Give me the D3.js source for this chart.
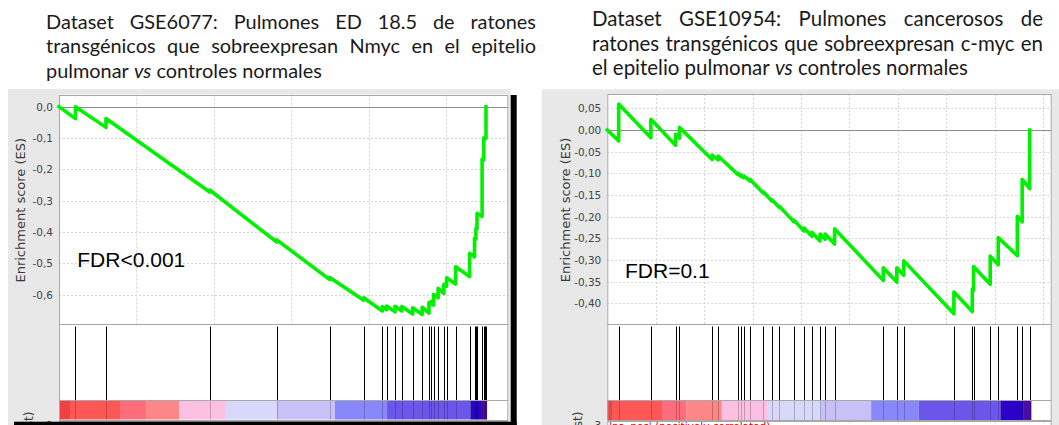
<!DOCTYPE html>
<html><head><meta charset="utf-8">
<script src="https://cdn.jsdelivr.net/npm/d3@7"></script>
<style>body{margin:0;background:#fff}svg{display:block}</style>
</head><body><svg id="c" width="1059" height="425"></svg>
<script>
// ---------------- DATA ----------------
const leftTitle = ["Dataset GSE6077: Pulmones ED 18.5 de ratones",
                   "transgénicos que sobreexpresan Nmyc en el epitelio",
                   "pulmonar |vs| controles normales"];
const rightTitle = ["Dataset GSE10954: Pulmones cancerosos de",
                    "ratones transgénicos que sobreexpresan c-myc en",
                    "el epitelio pulmonar |vs| controles normales"];
const yAxisTitle = "Enrichment score (ES)";
const metricTitle = "Ranked list metric (tTest)";

const leftTicks = [0, -0.1, -0.2, -0.3, -0.4, -0.5, -0.6];
const leftTickLabels = ["0,0", "-0,1", "-0,2", "-0,3", "-0,4", "-0,5", "-0,6"];
const rightTicks = [0.05, 0, -0.05, -0.10, -0.15, -0.20, -0.25, -0.30, -0.35, -0.40];
const rightTickLabels = ["0,05", "0,00", "-0,05", "-0,10", "-0,15", "-0,20", "-0,25", "-0,30", "-0,35", "-0,40"];

const leftFdr = "FDR<0.001";
const rightFdr = "FDR=0.1";

// gene-set hits (rank in ordered list) and ES just before / after each hit
const leftHits = [1060, 3030, 9720, 14050, 17470, 19660, 20860, 21140, 21680, 22120, 22820, 23430, 23870, 24020, 24170, 24460, 24830, 25010, 25590, 26490, 26810, 26900, 26970, 27300, 27410, 27490, 27550];
const leftEsBefore = [-0.038, -0.066, -0.272, -0.432, -0.552, -0.618, -0.652, -0.648, -0.655, -0.652, -0.662, -0.663, -0.659, -0.630, -0.633, -0.610, -0.596, -0.573, -0.566, -0.542, -0.479, -0.423, -0.390, -0.350, -0.170, -0.101, -0.100];
const leftEsAfter  = [ 0.000, -0.038, -0.266, -0.425, -0.545, -0.610, -0.638, -0.636, -0.637, -0.638, -0.642, -0.640, -0.625, -0.622, -0.599, -0.580, -0.567, -0.546, -0.511, -0.468, -0.420, -0.388, -0.340, -0.167, -0.099, -0.098, 0.000];

const rightHits = [470, 1800, 2820, 2980, 4330, 4580, 5400, 5540, 5640, 5900, 6450, 6800, 7110, 7710, 8130, 8450, 8790, 9000, 9390, 11400, 11960, 12250, 14320, 15080, 15130, 15820, 16150, 16940, 17140, 17450];
const rightEsBefore = [-0.025, -0.018, -0.035, -0.019, -0.068, -0.069, -0.103, -0.108, -0.110, -0.118, -0.146, -0.164, -0.179, -0.212, -0.233, -0.245, -0.256, -0.252, -0.263, -0.347, -0.351, -0.335, -0.424, -0.419, -0.370, -0.356, -0.311, -0.290, -0.212, -0.135];
const rightEsAfter  = [ 0.060,  0.025, -0.010,  0.006, -0.058, -0.060, -0.100, -0.104, -0.106, -0.114, -0.143, -0.161, -0.176, -0.208, -0.226, -0.236, -0.240, -0.240, -0.228, -0.318, -0.318, -0.302, -0.374, -0.367, -0.315, -0.291, -0.248, -0.199, -0.114, 0.000];

// colour bar of the ranked list (segment start ranks, colours, end rank)
const leftBarStarts = [0, 710, 3990, 5620, 7760, 10770, 14050, 17800, 21190, 26570, 27290];
const leftBarEnd = 27620;
const rightBarStarts = [0, 230, 2260, 3260, 4730, 6630, 8800, 10900, 12860, 16240, 17210];
const rightBarEnd = 17520;
const barColors = ["#ee4242", "#ff5656", "#ff6c7b", "#ff8686", "#fdbfe2", "#d8d8fb", "#c7c1f8", "#8888fb", "#6b56eb", "#2a02c8", "#4c0ca6"];

const leftXMax = 28990, leftGridStep = 5000;
const rightXMax = 18360, rightGridStep = 2000;

// ---------------- DRAW ----------------
const svg = d3.select("#c");
const TITLE_FONT = "Lato, 'Open Sans', sans-serif";

function measure(text, size, italic) {
  const t = svg.append("text").attr("font-family", TITLE_FONT).attr("font-size", size)
    .attr("font-style", italic ? "italic" : "normal").text(text);
  const w = t.node().getComputedTextLength(); t.remove(); return w;
}
function parseWords(line) {
  const parts = line.split("|");
  const words = [];
  parts.forEach((p, i) => p.split(" ").filter(s => s.length).forEach(w => words.push({w, it: i % 2 === 1})));
  return words;
}
function drawTitle(lines, x0, x1, y0, lh, lastW) {
  const last = parseWords(lines[lines.length - 1]);
  const space20 = measure("a a", 20) - measure("aa", 20);
  let w20 = last.reduce((s, d) => s + measure(d.w, 20, d.it), 0) + space20 * (last.length - 1);
  const size = 20 * lastW / w20;
  const sp = space20 * size / 20;
  const g = svg.append("g").attr("font-family", TITLE_FONT).attr("font-size", size).attr("fill", "#1a1a1a");
  lines.forEach((line, li) => {
    const words = parseWords(line);
    const ws = words.map(d => measure(d.w, size, d.it));
    const tot = d3.sum(ws);
    const justify = li < lines.length - 1;
    const gap = justify ? (x1 - x0 - tot) / (words.length - 1) : sp;
    let x = x0;
    words.forEach((d, i) => {
      g.append("text").attr("x", x).attr("y", y0 + li * lh)
        .attr("font-style", d.it ? "italic" : "normal").text(d.w);
      x += ws[i] + gap;
    });
  });
}

function esPoints(hits, before, after) {
  const pts = [{r: 0, v: 0}];
  hits.forEach((h, i) => { pts.push({r: h, v: before[i]}); pts.push({r: h, v: after[i]}); });
  return pts;
}

function drawPanel(p) {
  const g = svg.append("g");
  g.append("rect").attr("x", p.gx0).attr("y", p.gy0).attr("width", p.gx1 - p.gx0)
    .attr("height", 425 - p.gy0).attr("fill", "#e8e8e8");
  const x = d3.scaleLinear().domain([0, p.xMax]).range([p.px0, p.px1]);
  const y = d3.scaleLinear().domain(p.yDomain).range([p.esBot, p.esTop]);

  g.append("rect").attr("x", p.px0).attr("y", p.esTop).attr("width", p.px1 - p.px0)
    .attr("height", 430 - p.esTop).attr("fill", "#fff");

  // grid
  const grid = g.append("g").attr("stroke", "#d4d4d4").attr("stroke-dasharray", "2,2").attr("stroke-width", 1);
  p.ticks.forEach(t => {
    const yy = Math.round(y(t)) + 0.5;
    grid.append("line").attr("x1", p.px0).attr("x2", p.px1).attr("y1", yy).attr("y2", yy);
  });
  d3.range(p.gridStep, p.xMax, p.gridStep).forEach(r => {
    const xx = Math.round(x(r)) + 0.5;
    grid.append("line").attr("x1", xx).attr("x2", xx).attr("y1", p.esTop).attr("y2", p.esBot);
    grid.append("line").attr("x1", xx).attr("x2", xx).attr("y1", p.barBot + 1).attr("y2", 425);
  });
  const y0 = Math.round(y(0)) + 0.5;
  g.append("line").attr("x1", p.px0).attr("x2", p.px1).attr("y1", y0).attr("y2", y0)
    .attr("stroke", "#8c8c8c").attr("stroke-width", 1);

  const ax = d3.axisLeft(y).tickValues(p.ticks).tickFormat((d, i) => p.tickLabels[i]).tickSize(0).tickPadding(6);
  const axg = g.append("g").attr("transform", `translate(${p.px0},0)`).call(ax);
  axg.select(".domain").remove();
  axg.selectAll("text").attr("font-family", "'DejaVu Sans', sans-serif").attr("font-size", 10.5).attr("fill", "#444");

  g.append("text").attr("transform", `translate(${p.labelX},${(p.esTop + p.esBot) / 2 + 1}) rotate(-90)`)
    .attr("text-anchor", "middle").attr("dominant-baseline", "central")
    .attr("font-family", "'DejaVu Sans', sans-serif").attr("font-size", 13).attr("fill", "#3a3a3a").text(yAxisTitle);

  const bar = p.barStarts.map((s, i) => ({s, e: i < p.barStarts.length - 1 ? p.barStarts[i + 1] : p.barEnd, c: barColors[i]}));
  g.selectAll(null).data(bar).enter().append("rect")
    .attr("x", d => x(d.s)).attr("width", d => x(d.e) - x(d.s))
    .attr("y", p.hitBot).attr("height", p.barBot - p.hitBot).attr("fill", d => d.c);

  g.selectAll(null).data(p.hits).enter().append("line")
    .attr("x1", d => Math.round(x(d)) + 0.5).attr("x2", d => Math.round(x(d)) + 0.5)
    .attr("y1", p.esBot + 2.5).attr("y2", p.hitBot).attr("stroke", "#000").attr("stroke-width", 1);
  g.selectAll(null).data(p.hits).enter().append("line")
    .attr("x1", d => Math.round(x(d)) + 0.5).attr("x2", d => Math.round(x(d)) + 0.5)
    .attr("y1", p.hitBot).attr("y2", p.barBot).attr("stroke", "rgba(0,0,0,0.22)").attr("stroke-width", 1);

  const fr = g.append("g").attr("fill", "none").attr("stroke", "#a8a8a8").attr("stroke-width", 1);
  [[p.esTop, p.esBot], [p.esBot, p.hitBot], [p.hitBot, p.barBot], [p.barBot + 1, 440]].forEach(([a, b]) => {
    fr.append("rect").attr("x", p.px0 + 0.5).attr("y", Math.round(a) + 0.5)
      .attr("width", p.px1 - p.px0 - 1).attr("height", Math.round(b) - Math.round(a));
  });

  const pts = esPoints(p.hits, p.before, p.after);
  const line = d3.line().x(d => x(d.r)).y(d => y(d.v));
  g.append("path").attr("d", line(pts)).attr("fill", "none").attr("stroke", "#00f000")
    .attr("stroke-width", 3.6).attr("stroke-linejoin", "round").attr("stroke-linecap", "square");

  g.append("text").attr("x", p.fdrX).attr("y", p.fdrY).attr("font-family", "'Liberation Sans', Arial, sans-serif")
    .attr("font-size", 21).attr("fill", "#000").text(p.fdr);

  // partially visible lower panel (cut by the picture edge, as in the reference)
  g.append("text").attr("transform", `translate(${p.metricX},${p.metricTop}) rotate(-90)`)
    .attr("text-anchor", "end").attr("dominant-baseline", "central")
    .attr("font-family", "'DejaVu Sans', sans-serif").attr("font-size", 12).attr("fill", "#444").text(metricTitle);
  g.append("text").attr("x", p.px0 - 6).attr("y", 429).attr("text-anchor", "end")
    .attr("font-family", "'DejaVu Sans', sans-serif").attr("font-size", 10.5).attr("fill", "#444").text(p.metricTick);
  return g;
}

drawTitle(leftTitle, 46, 536, 28.5, 24.6, 276);
drawTitle(rightTitle, 592, 1043, 26.3, 24.4, 376);

drawPanel({gx0: 8, gy0: 89, gx1: 510.7, px0: 59, px1: 508.3, esTop: 94.5, esBot: 324, hitBot: 400, barBot: 419.5,
  xMax: leftXMax, gridStep: leftGridStep, yDomain: [-0.6936, 0.0389], ticks: leftTicks, tickLabels: leftTickLabels,
  labelX: 20.5, hits: leftHits, before: leftEsBefore, after: leftEsAfter, barStarts: leftBarStarts, barEnd: leftBarEnd,
  fdr: leftFdr, fdrX: 77.3, fdrY: 266.7, metricX: 28.5, metricTop: 411.5, metricTick: "2"});

const rp = drawPanel({gx0: 541.7, gy0: 89.3, gx1: 1059, px0: 607.3, px1: 1051.7, esTop: 94, esBot: 324, hitBot: 400, barBot: 420,
  xMax: rightXMax, gridStep: rightGridStep, yDomain: [-0.4477, 0.0831], ticks: rightTicks, tickLabels: rightTickLabels,
  labelX: 565, hits: rightHits, before: rightEsBefore, after: rightEsAfter, barStarts: rightBarStarts, barEnd: rightBarEnd,
  fdr: rightFdr, fdrX: 625, fdrY: 277.7, metricX: 577.5, metricTop: 411.5, metricTick: "3"});
rp.append("text").attr("x", 609).attr("y", 430).attr("font-family", "'DejaVu Sans', sans-serif")
  .attr("font-size", 10.5).attr("fill", "#e00000").text("'na_pos' (positively correlated)");

svg.append("rect").attr("x", 510.7).attr("y", 95).attr("width", 6).attr("height", 330).attr("fill", "#000");
svg.append("rect").attr("x", 14).attr("y", 421.7).attr("width", 502.7).attr("height", 3.3).attr("fill", "#000");
</script></body></html>
